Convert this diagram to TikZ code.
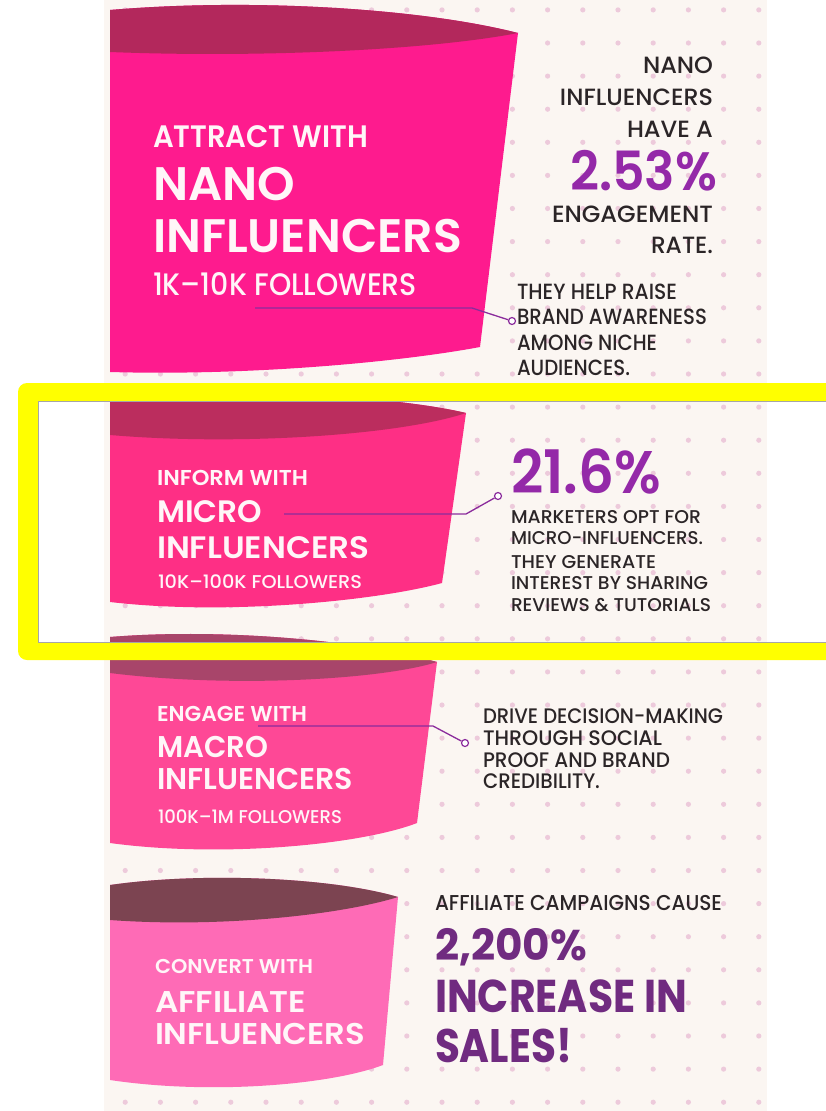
\documentclass[tikz,border=0pt]{standalone}
\usepackage{fontspec}
\usepackage{graphicx}
\setmainfont{Poppins}
\newfontfamily\pmed{Poppins Medium}
\newfontfamily\psemi{Poppins SemiBold}
\newfontfamily\pbold{Poppins Bold}
\definecolor{bgc}{HTML}{FBF6F2}
\definecolor{dotc}{HTML}{EDCADB}
\definecolor{fa}{HTML}{FE1B8E}
\definecolor{fad}{HTML}{B3285C}
\definecolor{fb}{HTML}{FE2F85}
\definecolor{fbd}{HTML}{BB2D5E}
\definecolor{fc}{HTML}{FE4896}
\definecolor{fcd}{HTML}{A8456A}
\definecolor{fd}{HTML}{FE6BB6}
\definecolor{fdd}{HTML}{7C4451}
\definecolor{wtc}{HTML}{FFF6F8}
\definecolor{dkc}{HTML}{2B2527}
\definecolor{puc}{HTML}{9429A8}
\definecolor{pud}{HTML}{702B80}
\definecolor{connc}{HTML}{8B2C9C}
\definecolor{hl}{HTML}{FFFF00}
\newcommand\tx[4]{\raisebox{0pt}[\height][0pt]{\resizebox{#1pt}{\height}{\fontsize{#2}{#2}#3#4}}}
\begin{document}
\begin{tikzpicture}[x=1pt,y=-1pt,
  lefttxt/.style={anchor=base west, inner sep=0, outer sep=0},
  righttxt/.style={anchor=base east, inner sep=0, outer sep=0},
  wt/.style={text=wtc}, dk/.style={text=dkc}, pu/.style={text=puc}, pd/.style={text=pud},
  conn/.style={draw=connc, line width=1.3},
  dotend/.style={circle, draw=connc, fill=white, line width=1.2, minimum size=7pt, inner sep=0}]
\useasboundingbox (0,0) rectangle (826,1111);
% background
\fill[bgc] (104,0) rectangle (767,1111);
\foreach \i in {0,...,18}{
  \foreach \j in {-1,...,32}{
    \fill[dotc] (125.2+35.2*\i, 43+33.1*\j) circle (2.6);
  }
}
% funnel 1
\fill[fa] (110,10) .. controls (250,-2) and (420,8) .. (518,33) -- (480,347) .. controls (400,362) and (250,376) .. (110,372) -- cycle;
\fill[fad] (110,10) .. controls (250,-2) and (420,8) .. (518,33) .. controls (430,50) and (260,58) .. (110,52) -- cycle;
% funnel 2
\fill[fb] (110,395) .. controls (230,388) and (390,395) .. (466,413) -- (442,583) .. controls (380,600) and (230,616) .. (110,602) -- cycle;
\fill[fbd] (110,395) .. controls (230,388) and (390,395) .. (466,413) .. controls (400,435) and (240,446) .. (110,435) -- cycle;
% funnel 3
\fill[fc] (110,637) .. controls (220,628) and (360,640) .. (437,662) -- (417,823) .. controls (360,845) and (220,858) .. (110,843) -- cycle;
\fill[fcd] (110,637) .. controls (220,628) and (360,640) .. (437,662) .. controls (380,680) and (230,688) .. (110,673) -- cycle;
% funnel 4
\fill[fd] (110,885) .. controls (200,872) and (330,877) .. (398,897) -- (383,1065) .. controls (330,1085) and (210,1095) .. (110,1080) -- cycle;
\fill[fdd] (110,885) .. controls (200,872) and (330,877) .. (398,897) .. controls (340,915) and (220,928) .. (110,920) -- cycle;
% ---- texts: nano
\node[lefttxt,wt] (n1a) at (153,147) {\tx{215}{31}{\psemi}{ATTRACT WITH}};
\node[lefttxt,wt] (n1b) at (153,200) {\tx{142}{47}{\psemi}{NANO}};
\node[lefttxt,wt] (n1c) at (153,252) {\tx{309}{47}{\psemi}{INFLUENCERS}};
\node[lefttxt,wt] (n1d) at (153,295) {\tx{264}{31}{\pmed}{1K–10K FOLLOWERS}};
\node[righttxt,dk] (r1a) at (713,73) {\tx{70}{23.5}{\pmed}{NANO}};
\node[righttxt,dk] (r1b) at (713,105) {\tx{153}{23.5}{\pmed}{INFLUENCERS}};
\node[righttxt,dk] (r1c) at (713,137) {\tx{86}{23.5}{\pmed}{HAVE A}};
\node[righttxt,pu] (r1d) at (717,190) {\tx{147}{54}{\psemi}{2.53\%}};
\node[righttxt,dk] (r1e) at (713,222) {\tx{161}{23.5}{\pmed}{ENGAGEMENT}};
\node[righttxt,dk] (r1f) at (713,253) {\tx{62}{23.5}{\pmed}{RATE.}};
\node[lefttxt,dk] (r1g) at (517,299) {\tx{160}{22}{\pmed}{THEY HELP RAISE}};
\node[lefttxt,dk] (r1h) at (517,324) {\tx{190}{22}{\pmed}{BRAND AWARENESS}};
\node[lefttxt,dk] (r1i) at (517,350) {\tx{140}{22}{\pmed}{AMONG NICHE}};
\node[lefttxt,dk] (r1j) at (517,375) {\tx{113}{22}{\pmed}{AUDIENCES.}};
% ---- micro
\node[lefttxt,wt] (n2a) at (157,485) {\tx{151}{21.5}{\psemi}{INFORM WITH}};
\node[lefttxt,wt] (n2b) at (157,522) {\tx{105}{31}{\psemi}{MICRO}};
\node[lefttxt,wt] (n2c) at (157,558) {\tx{212}{31}{\psemi}{INFLUENCERS}};
\node[lefttxt,wt] (n2d) at (158,588) {\tx{204}{18.5}{\pmed}{10K–100K FOLLOWERS}};
\node[lefttxt,pu] (r2a) at (511,493) {\tx{150}{60}{\psemi}{21.6\%}};
\node[lefttxt,dk] (r2b) at (511,523) {\tx{190}{18.5}{\pmed}{MARKETERS OPT FOR}};
\node[lefttxt,dk] (r2c) at (511,544) {\tx{192}{18.5}{\pmed}{MICRO-INFLUENCERS.}};
\node[lefttxt,dk] (r2d) at (511,568) {\tx{145}{18.5}{\pmed}{THEY GENERATE}};
\node[lefttxt,dk] (r2e) at (511,589) {\tx{197}{18.5}{\pmed}{INTEREST BY SHARING}};
\node[lefttxt,dk] (r2f) at (511,611) {\tx{200}{18.5}{\pmed}{REVIEWS \& TUTORIALS}};
% ---- macro
\node[lefttxt,wt] (n3a) at (157,721) {\tx{150}{21.5}{\psemi}{ENGAGE WITH}};
\node[lefttxt,wt] (n3b) at (157,757) {\tx{111}{30}{\psemi}{MACRO}};
\node[lefttxt,wt] (n3c) at (157,789) {\tx{196}{30}{\psemi}{INFLUENCERS}};
\node[lefttxt,wt] (n3d) at (158,823) {\tx{184}{18.5}{\pmed}{100K–1M FOLLOWERS}};
\node[lefttxt,dk] (r3a) at (483,723) {\tx{240}{21}{\pmed}{DRIVE DECISION-MAKING}};
\node[lefttxt,dk] (r3b) at (483,745) {\tx{179}{21}{\pmed}{THROUGH SOCIAL}};
\node[lefttxt,dk] (r3c) at (483,767) {\tx{187}{21}{\pmed}{PROOF AND BRAND}};
\node[lefttxt,dk] (r3d) at (483,788) {\tx{117}{21}{\pmed}{CREDIBILITY.}};
% ---- affiliate
\node[lefttxt,wt] (n4a) at (155,973) {\tx{158}{20}{\psemi}{CONVERT WITH}};
\node[lefttxt,wt] (n4b) at (155,1012) {\tx{151}{30}{\psemi}{AFFILIATE}};
\node[lefttxt,wt] (n4c) at (155,1044) {\tx{210}{30}{\psemi}{INFLUENCERS}};
\node[lefttxt,dk] (r4a) at (435,910) {\tx{287}{21.5}{\pmed}{AFFILIATE CAMPAIGNS CAUSE}};
\node[lefttxt,pd] (r4b) at (435,960) {\tx{152}{43}{\pbold}{2,200\%}};
\node[lefttxt,pd] (r4c) at (435,1012) {\tx{252}{46}{\pbold}{INCREASE IN}};
\node[lefttxt,pd] (r4d) at (435,1062) {\tx{137}{47}{\pbold}{SALES!}};
% ---- connectors
\coordinate (s1) at (255,308); \coordinate (b1) at (472,308);
\node[dotend] (c1) at (512,321) {};
\draw[conn] (s1) -- (b1) -- (c1);
\coordinate (s2) at (284,514); \coordinate (b2) at (466,514);
\node[dotend] (c2) at (498,496) {};
\draw[conn] (s2) -- (b2) -- (c2);
\coordinate (s3) at (258,726); \coordinate (b3) at (433,726);
\node[dotend] (c3) at (465,743) {};
\draw[conn] (s3) -- (b3) -- (c3);
% ---- highlight frame
\begin{scope}
\clip (0,0) rectangle (826,1111);
\fill[hl, even odd rule] [rounded corners=9pt] (18,383) rectangle (850,660) [sharp corners] (38,401) rectangle (850,642);
\draw[black!35, line width=0.8] (850,401) -- (38,401) -- (38,642) -- (850,642);
\end{scope}
\end{tikzpicture}
\end{document}
